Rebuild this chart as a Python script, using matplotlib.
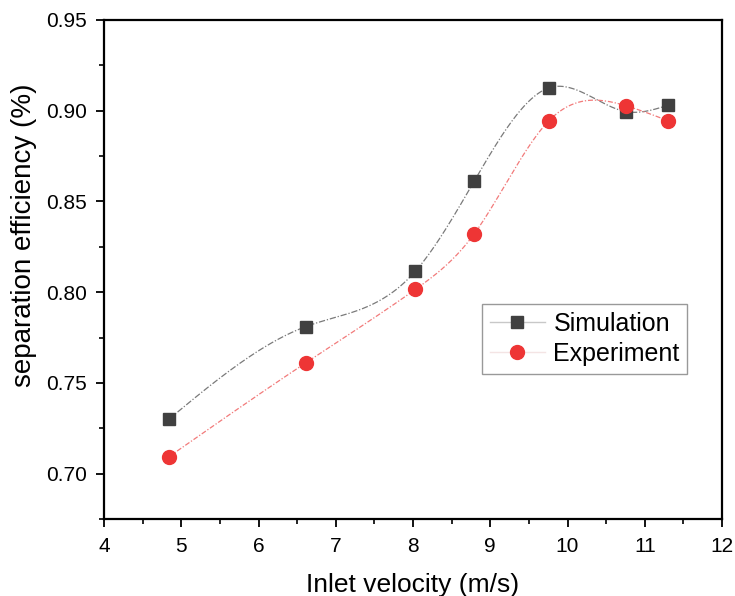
import numpy as np
import matplotlib
matplotlib.use("Agg")
import matplotlib.pyplot as plt
from matplotlib.ticker import MultipleLocator

# Data
velocity_sim = [4.84, 6.61, 8.03, 8.79, 9.76, 10.76, 11.30]
efficiency_sim = [0.730, 0.781, 0.8115, 0.861, 0.9126, 0.8995, 0.9030]
velocity_exp = [4.84, 6.61, 8.03, 8.79, 9.76, 10.76, 11.30]
efficiency_exp = [0.7093, 0.761, 0.8015, 0.832, 0.8945, 0.9027, 0.8945]

series_labels = ["Simulation", "Experiment"]
xlabel = "Inlet velocity (m/s)"
ylabel = "separation efficiency (%)"


def natural_spline(x, y, n=400):
    x = np.asarray(x, float)
    y = np.asarray(y, float)
    k = len(x)
    h = np.diff(x)
    A = np.zeros((k, k))
    r = np.zeros(k)
    A[0, 0] = 1
    A[-1, -1] = 1
    for i in range(1, k - 1):
        A[i, i - 1] = h[i - 1]
        A[i, i] = 2 * (h[i - 1] + h[i])
        A[i, i + 1] = h[i]
        r[i] = 3 * ((y[i + 1] - y[i]) / h[i] - (y[i] - y[i - 1]) / h[i - 1])
    c = np.linalg.solve(A, r)
    b = np.zeros(k - 1)
    d = np.zeros(k - 1)
    for i in range(k - 1):
        b[i] = (y[i + 1] - y[i]) / h[i] - h[i] * (2 * c[i] + c[i + 1]) / 3
        d[i] = (c[i + 1] - c[i]) / (3 * h[i])
    xs = np.linspace(x[0], x[-1], n)
    idx = np.clip(np.searchsorted(x, xs) - 1, 0, k - 2)
    dx = xs - x[idx]
    ys = y[idx] + b[idx] * dx + c[idx] * dx ** 2 + d[idx] * dx ** 3
    return xs, ys


plt.rcParams['font.family'] = ['Liberation Sans', 'DejaVu Sans']

fig = plt.figure(figsize=(7.35, 5.96), dpi=100)
ax = fig.add_axes([104 / 735, 1 - 519 / 596, 618 / 735, 499 / 596])

sim_color = "#404040"
exp_color = "#ee3535"

xs, ys = natural_spline(velocity_sim, efficiency_sim)
ax.plot(xs, ys, color="#7a7a7a", lw=0.9, ls=(0, (5, 1.5, 1, 1.5)), zorder=2)
xe, ye = natural_spline(velocity_exp, efficiency_exp)
ax.plot(xe, ye, color="#f27a7a", lw=0.9, ls=(0, (4, 1.5, 1, 1.5)), zorder=2)

ax.plot(velocity_sim, efficiency_sim, ls="none", marker="s", ms=8,
        color=sim_color, mec=sim_color, zorder=3)
ax.plot(velocity_exp, efficiency_exp, ls="none", marker="o", ms=10,
        color=exp_color, mec=exp_color, zorder=4)

# legend handles
h1, = ax.plot([], [], color="#c8c8c8", lw=1, marker="s", ms=8,
              mfc=sim_color, mec=sim_color, label=series_labels[0])
h2, = ax.plot([], [], color="#f4e4e4", lw=1, marker="o", ms=10,
              mfc=exp_color, mec=exp_color, label=series_labels[1])
leg = ax.legend(handles=[h1, h2], loc="upper left",
                bbox_to_anchor=(0.612, 0.43), borderaxespad=0,
                fontsize=18, frameon=True, fancybox=False,
                handlelength=2.2, handletextpad=0.35, borderpad=0.3,
                labelspacing=0.25)
leg.get_frame().set_edgecolor("#808080")
leg.get_frame().set_linewidth(1.0)

ax.set_xlim(4, 12)
ax.set_ylim(0.675, 0.95)
ax.xaxis.set_major_locator(MultipleLocator(1))
ax.xaxis.set_minor_locator(MultipleLocator(0.5))
ax.yaxis.set_major_locator(MultipleLocator(0.05))
ax.yaxis.set_minor_locator(MultipleLocator(0.025))
ax.yaxis.set_major_formatter(matplotlib.ticker.FormatStrFormatter("%.2f"))

for s in ax.spines.values():
    s.set_linewidth(1.6)
ax.tick_params(which="major", direction="out", length=6, width=1.3,
               labelsize=15, top=False, right=False)
ax.tick_params(which="minor", direction="out", length=3.5, width=1.2,
               top=False, right=False)
ax.tick_params(axis="x", which="major", pad=7)
ax.tick_params(axis="y", which="major", pad=6)

ax.set_xlabel(xlabel, fontsize=19, labelpad=12)
ax.set_ylabel(ylabel, fontsize=20)
ax.yaxis.set_label_coords(-0.108, 0.569)

fig.savefig("out.png", dpi=100)
